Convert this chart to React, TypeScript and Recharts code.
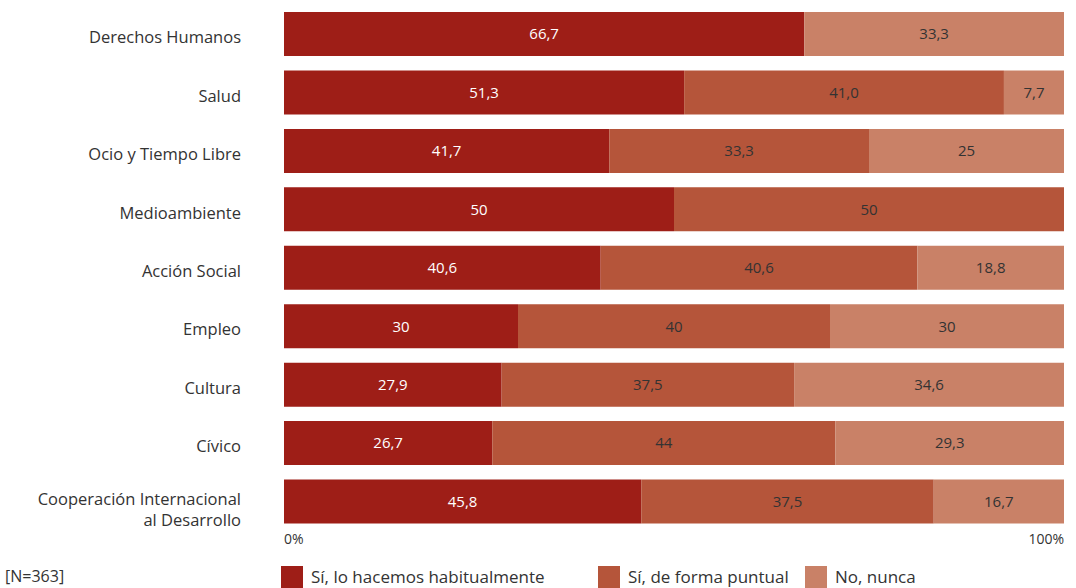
import { BarChart, Bar, XAxis, YAxis, Legend, LabelList } from "recharts";

const categories = [
  "Derechos Humanos",
  "Salud",
  "Ocio y Tiempo Libre",
  "Medioambiente",
  "Acción Social",
  "Empleo",
  "Cultura",
  "Cívico",
  "Cooperación Internacional\nal Desarrollo",
];

const habitual = [66.7, 51.3, 41.7, 50, 40.6, 30, 27.9, 26.7, 45.8];
const puntual = [0, 41.0, 33.3, 50, 40.6, 40, 37.5, 44, 37.5];
const nunca = [33.3, 7.7, 25, 0, 18.8, 30, 34.6, 29.3, 16.7];

const habitualLabels = ["66,7", "51,3", "41,7", "50", "40,6", "30", "27,9", "26,7", "45,8"];
const puntualLabels = ["", "41,0", "33,3", "50", "40,6", "40", "37,5", "44", "37,5"];
const nuncaLabels = ["33,3", "7,7", "25", "", "18,8", "30", "34,6", "29,3", "16,7"];

const seriesNames = ["Sí, lo hacemos habitualmente", "Sí, de forma puntual", "No, nunca"];
const colors = ["#9e1e17", "#b5553a", "#c98167"];

const data = categories.map((name, i) => ({
  name,
  habitual: habitual[i],
  puntual: puntual[i],
  nunca: nunca[i],
  habitualLabel: habitualLabels[i],
  puntualLabel: puntualLabels[i],
  nuncaLabel: nuncaLabels[i],
}));

const FONT = "'Open Sans', sans-serif";

const CategoryTick = (props: any) => {
  const { x, y, payload } = props;
  const lines = String(payload.value).split("\n");
  return (
    <text x={x} y={y} textAnchor="end" fill="#333" fontSize={16.5} fontFamily={FONT}>
      {lines.map((l, i) => (
        <tspan key={i} x={x} dy={i === 0 ? (lines.length > 1 ? 3 : 9) : 21}>
          {l}
        </tspan>
      ))}
    </text>
  );
};

const PercentTick = (props: any) => {
  const { x, y, payload } = props;
  const isStart = payload.value === 0;
  return (
    <text
      x={x}
      y={y}
      dy={5}
      textAnchor={isStart ? "start" : "end"}
      fill="#333"
      fontSize={14}
      fontFamily={FONT}
    >
      {payload.value}%
    </text>
  );
};

const LegendContent = () => (
  <div style={{ position: "relative", height: 24, fontFamily: FONT, fontSize: 17, color: "#333" }}>
    {seriesNames.map((n, i) => (
      <div
        key={n}
        style={{
          position: "absolute",
          left: [0, 317, 524][i],
          top: 0,
          display: "flex",
          alignItems: "center",
          whiteSpace: "nowrap",
        }}
      >
        <span style={{ width: 22, height: 22, background: colors[i], display: "inline-block", marginRight: 8 }} />
        {n}
      </div>
    ))}
  </div>
);

export default function App() {
  return (
    <div style={{ position: "absolute", left: 0, top: 0, width: 1076, height: 588, background: "#fff", overflow: "hidden" }}>
      <BarChart
        width={1076}
        height={588}
        data={data}
        layout="vertical"
        margin={{ top: 5, right: 12, left: 0, bottom: 13 }}
        barCategoryGap={7}
      >
        <XAxis
          type="number"
          domain={[0, 100]}
          ticks={[0, 100]}
          axisLine={false}
          tickLine={false}
          tick={<PercentTick />}
          height={20}
        />
        <YAxis
          type="category"
          dataKey="name"
          width={284}
          axisLine={false}
          tickLine={false}
          tickSize={0}
          tickMargin={43}
          tick={<CategoryTick />}
          interval={0}
        />
        <Legend
          content={<LegendContent />}
          wrapperStyle={{ position: "absolute", left: 281, top: 565, width: 700 }}
        />
        <Bar dataKey="habitual" stackId="a" fill={colors[0]} isAnimationActive={false}>
          <LabelList dataKey="habitualLabel" position="center" fill="#fff" fontSize={15} fontFamily={FONT} />
        </Bar>
        <Bar dataKey="puntual" stackId="a" fill={colors[1]} isAnimationActive={false}>
          <LabelList dataKey="puntualLabel" position="center" fill="#333" fontSize={15} fontFamily={FONT} />
        </Bar>
        <Bar dataKey="nunca" stackId="a" fill={colors[2]} isAnimationActive={false}>
          <LabelList dataKey="nuncaLabel" position="center" fill="#333" fontSize={15} fontFamily={FONT} />
        </Bar>
      </BarChart>
      <div style={{ position: "absolute", left: 5, top: 565, fontFamily: FONT, fontSize: 16, color: "#333" }}>
        [N=363]
      </div>
    </div>
  );
}
